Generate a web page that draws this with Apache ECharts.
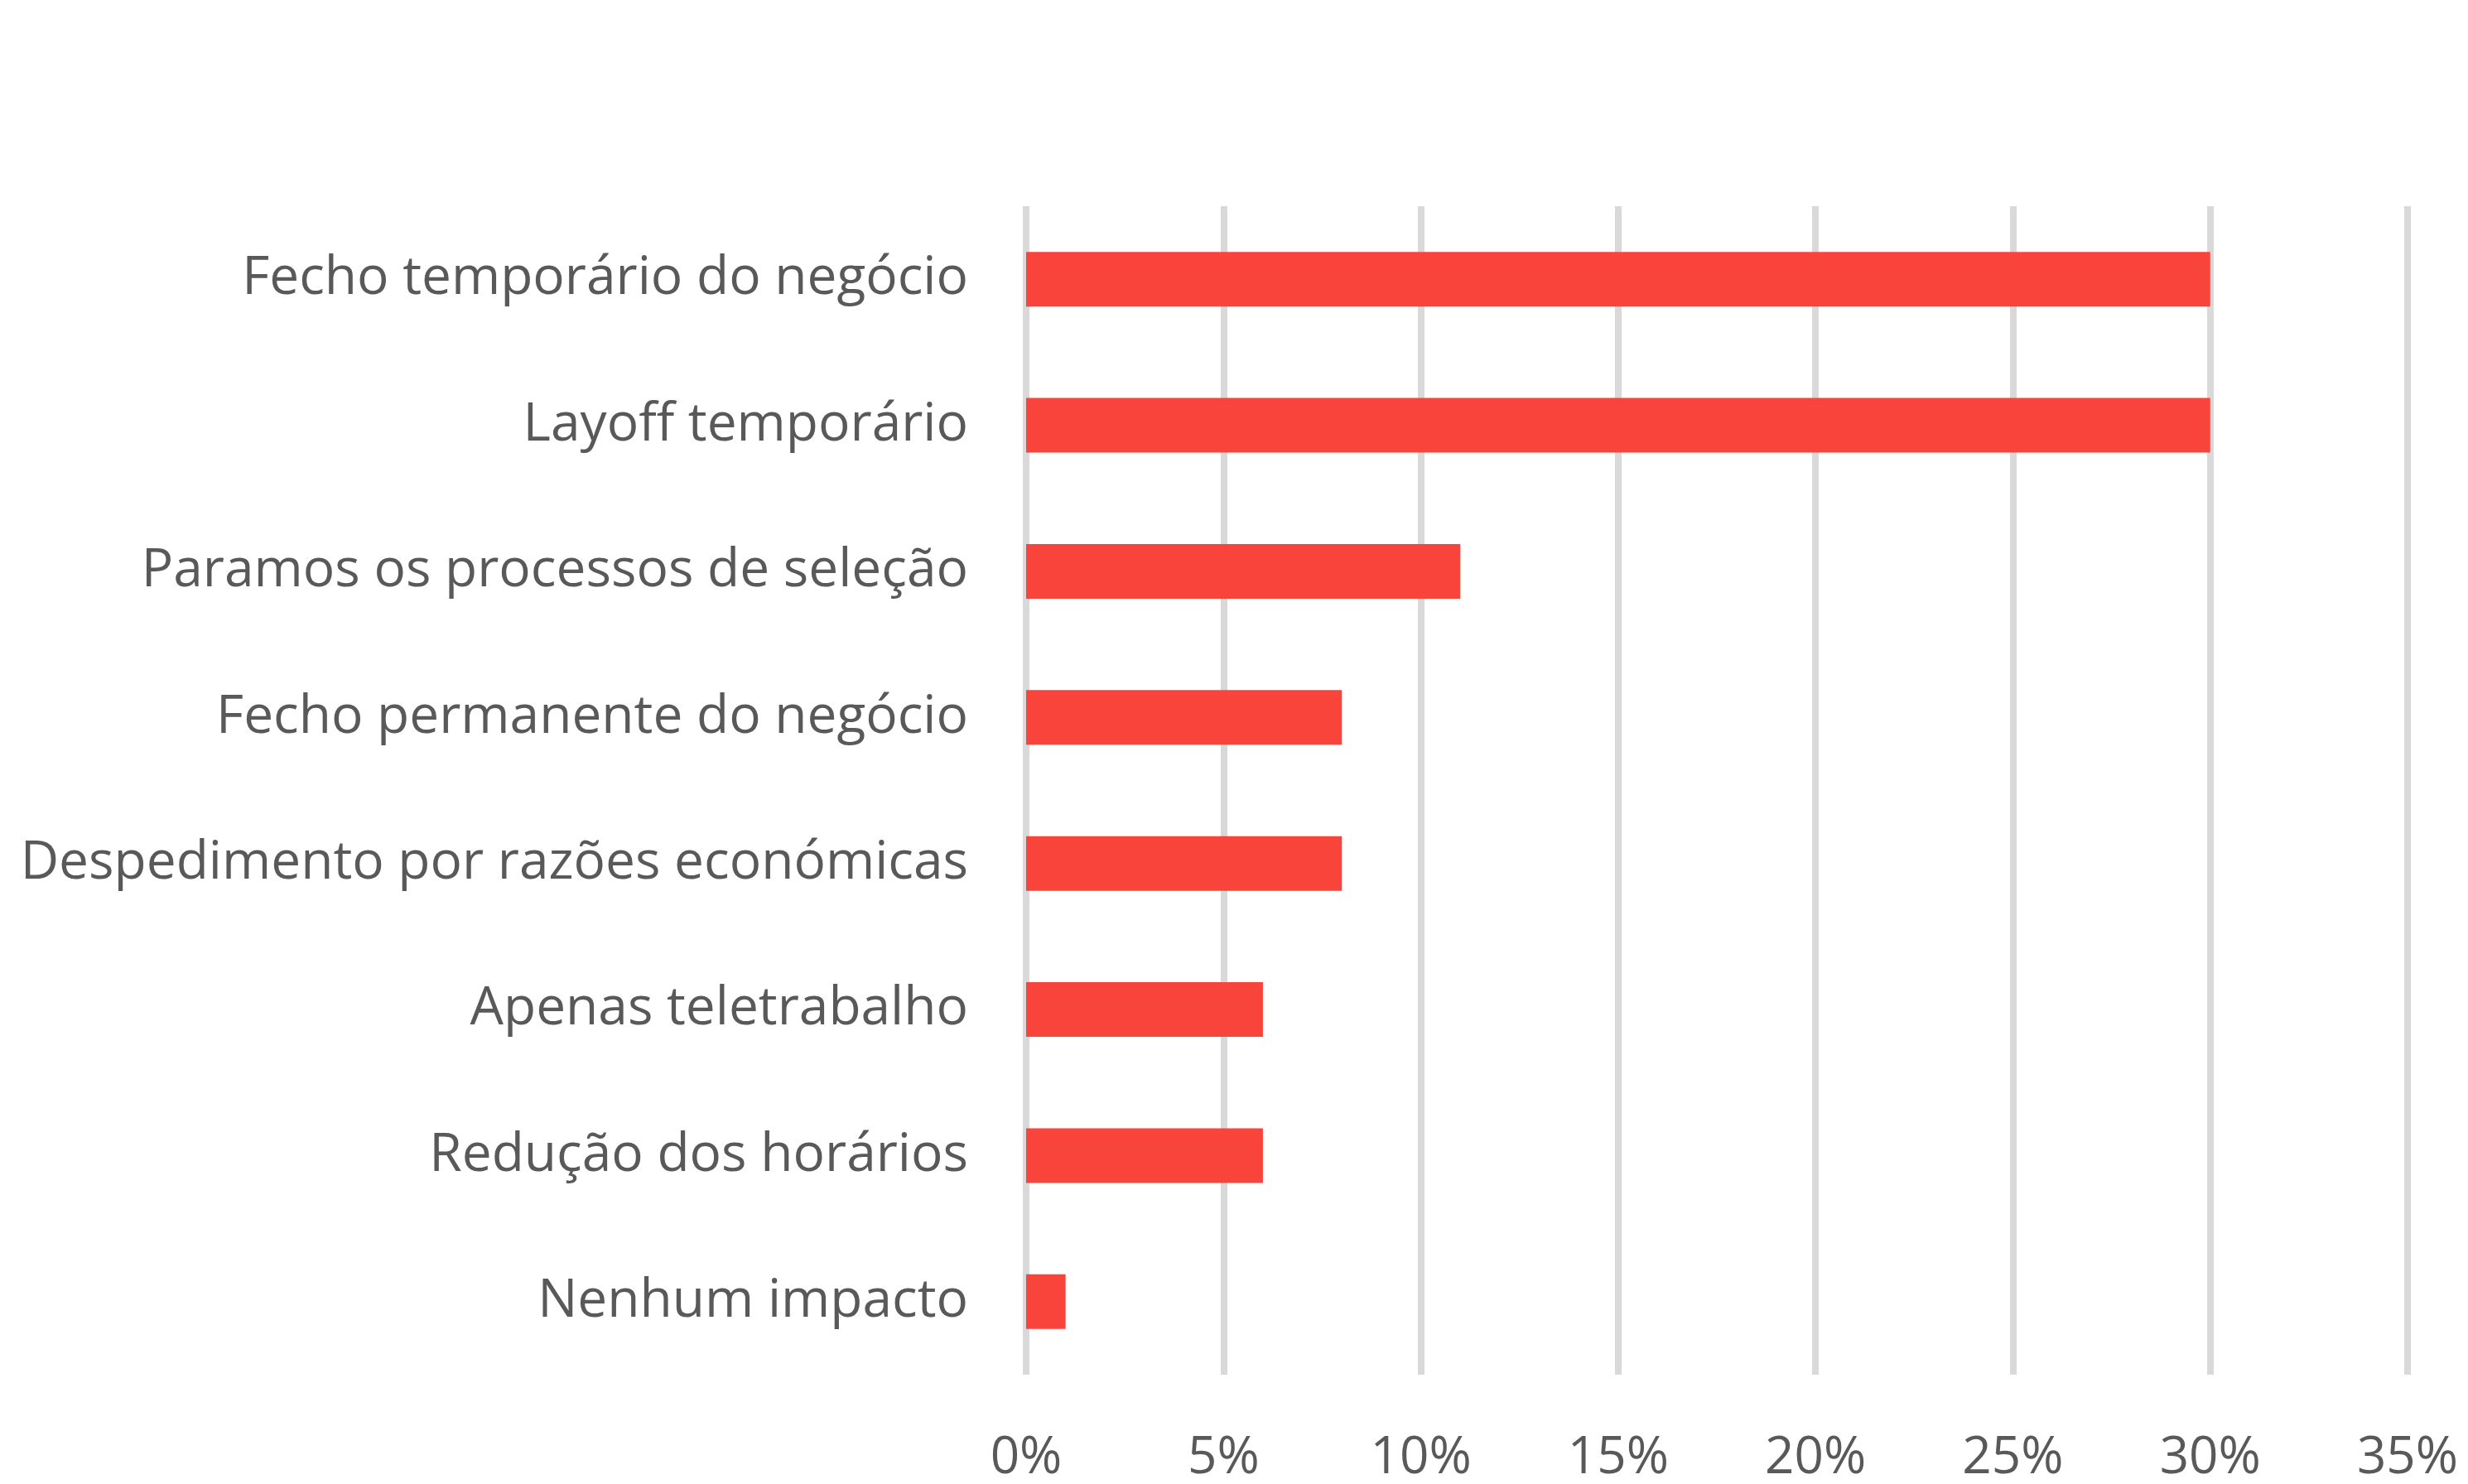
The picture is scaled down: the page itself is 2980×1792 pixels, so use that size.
<!DOCTYPE html>
<html>
<head>
<meta charset="utf-8">
<script src="https://cdn.jsdelivr.net/npm/echarts@6/dist/echarts.min.js"></script>
<style>
   html, body { margin: 0; padding: 0; background: #ffffff; }
   #chart { width: 2980px; height: 1792px; }
</style>
</head>
<body>
<div id="chart"></div>
<script>

// categories top to bottom
const categories = [
   "Fecho temporário do negócio",
   "Layoff temporário",
   "Paramos os processos de seleção",
   "Fecho permanente do negócio",
   "Despedimento por razões económicas",
   "Apenas teletrabalho",
   "Redução dos horários",
   "Nenhum impacto",
];

// share of answers, %
const values = [30, 30, 11, 8, 8, 6, 6, 1];

const axisMax = 35;
const axisStep = 5;

const textColor = "#595959";
const fontName = "Open Sans";

var chart = echarts.init(document.getElementById("chart"));

var option =
{
   animation: false,
   backgroundColor: "#ffffff",
   grid:
   {
      left: 1239,
      right: 73,
      top: 249,
      bottom: 119,
      containLabel: false
   },
   xAxis:
   {
      type: "value",
      min: 0,
      max: axisMax,
      interval: axisStep,
      axisLine: { show: false },
      axisTick: { show: false },
      splitLine: { show: true, lineStyle: { color: "#d9d9d9", width: 8 } },
      axisLabel:
      {
         margin: 70,
         color: textColor,
         fontFamily: fontName,
         fontSize: 62,
         formatter: (v) => v + "%"
      }
   },
   yAxis:
   {
      type: "category",
      data: categories,
      inverse: true,
      axisLine: { show: false },
      axisTick: { show: false },
      splitLine: { show: false },
      axisLabel:
      {
         margin: 70,
         color: textColor,
         fontFamily: fontName,
         fontSize: 64
      }
   },
   series:
   [
      {
         type: "bar",
         data: values,
         barWidth: 66,
         itemStyle: { color: "#f9443b" }
      }
   ]
};

chart.setOption(option);

</script>
</body>
</html>
